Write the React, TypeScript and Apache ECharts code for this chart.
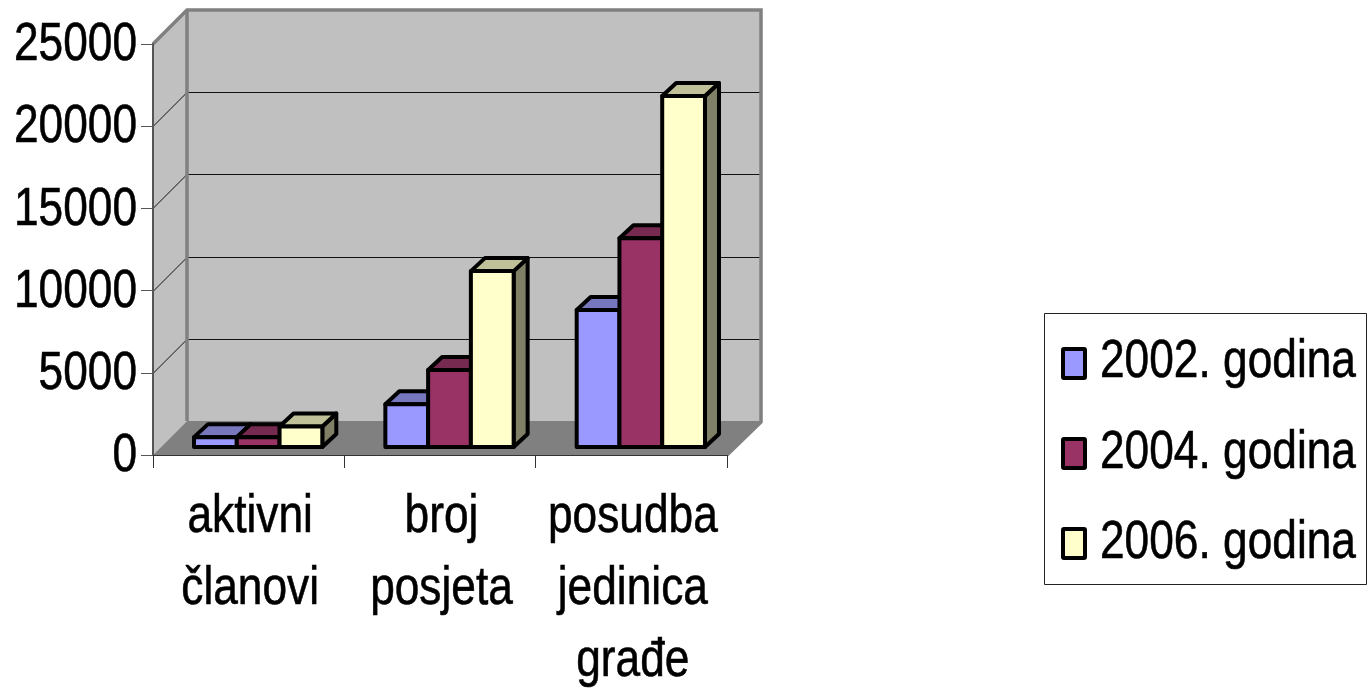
import React, { useEffect, useRef } from "react";
import * as echarts from "echarts";

const categories = ["aktivni\nčlanovi", "broj\nposjeta", "posudba\njedinica\ngrađe"];
const yTicks = [0, 5000, 10000, 15000, 20000, 25000];
const names = ["2002. godina", "2004. godina", "2006. godina"];
const values2002 = [600, 2600, 8330];
const values2004 = [600, 4680, 12700];
const values2006 = [1250, 10700, 21350];
const front = ["#9999FF", "#993366", "#FFFFCC"];
const top = ["#7777BD", "#772A50", "#C0C099"];
const side = ["#666699", "#662244", "#808066"];
const FONT = '"Liberation Sans", Arial, sans-serif';
const FONT_SIZE = 54;
const NARROW = 0.82;
const WALL_DEPTH = 34;

function frameItem(params: any, api: any) {
  const cs = params.coordSys;
  const L = cs.x, R = cs.x + cs.width, B = cs.y + cs.height, T = cs.y;
  const d = WALL_DEPTH;
  const children: any[] = [
    { type: "polygon", shape: { points: [[L + d, T - d], [R + d, T - d], [R + d, B - d], [L + d, B - d]] }, style: { fill: "#C0C0C0" } },
    { type: "polygon", shape: { points: [[L, T], [L + d, T - d], [L + d, B - d], [L, B]] }, style: { fill: "#C0C0C0" } },
    { type: "polygon", shape: { points: [[L, B], [L + d, B - d], [R + d, B - d], [R, B]] }, style: { fill: "#808080" } },
  ];
  yTicks.slice(1, -1).forEach((t) => {
    const y = Math.round(api.coord([0, t])[1]) + 0.5;
    children.push({ type: "polyline", shape: { points: [[L, y], [L + d, y - d], [R + d, y - d]] }, style: { fill: "none", stroke: "#111", lineWidth: 1 } });
  });
  children.push({ type: "polyline", shape: { points: [[L, T], [L + d, T - d], [R + d, T - d], [R + d, B - d + 1], [R, B]] }, style: { fill: "none", stroke: "#808080", lineWidth: 3.5 } });
  children.push({ type: "line", shape: { x1: L + d, y1: T - d, x2: L + d, y2: B - d }, style: { stroke: "#808080", lineWidth: 3.5 } });
  return { type: "group", children };
}

function barRenderer(seriesIndex: number) {
  return (_p: any, api: any) => {
    const cat = api.value(0);
    const val = api.value(1);
    const band = api.size([1, 0])[0];
    const w = band * 0.2235;
    const dx = 14;
    const dy = 13;
    const c = api.coord([cat, 0]);
    const yB = c[1] - 8;
    const yT = api.coord([cat, val])[1] - 8;
    const x0 = c[0] + 9.5 + (seriesIndex - 1.5) * w;
    const x1 = x0 + w;
    const st = { stroke: "#000", lineWidth: 4, lineJoin: "round" };
    return {
      type: "group",
      children: [
        { type: "polygon", shape: { points: [[x1, yT], [x1 + dx, yT - dy], [x1 + dx, yB - dy], [x1, yB]] }, style: { fill: side[seriesIndex], ...st } },
        { type: "polygon", shape: { points: [[x0, yT], [x0 + dx, yT - dy], [x1 + dx, yT - dy], [x1, yT]] }, style: { fill: top[seriesIndex], ...st } },
        { type: "polygon", shape: { points: [[x0, yT], [x1, yT], [x1, yB], [x0, yB]] }, style: { fill: front[seriesIndex], ...st } },
      ],
    };
  };
}

function narrowText(text: string, x: number, y: number, align: string, vAlign: string) {
  return {
    type: "text",
    x,
    y,
    scaleX: NARROW,
    silent: true,
    style: {
      text,
      x: 0,
      y: 0,
      align,
      verticalAlign: vAlign,
      fontFamily: FONT,
      fontSize: FONT_SIZE,
      lineHeight: 72,
      fill: "#000",
      stroke: "#000",
      lineWidth: 0.6,
    },
  };
}

function yLabelItem(params: any, api: any) {
  const t = api.value(1);
  return narrowText(String(t), params.coordSys.x - 16, api.coord([0, t])[1] - 3, "right", "middle");
}

function xLabelItem(params: any, api: any) {
  const k = api.value(0);
  return narrowText(categories[k], api.coord([k, 0])[0] + 1.5, params.coordSys.y + params.coordSys.height + 22, "center", "top");
}

export default function App() {
  const ref = useRef<HTMLDivElement>(null);
  useEffect(() => {
    const chart = echarts.init(ref.current!, undefined, { renderer: "svg" });
    const all = [values2002, values2004, values2006];
    const legendBox = { x: 1044, y: 313, w: 322, h: 271 };
    const legendChildren: any[] = [
      { type: "rect", shape: { x: legendBox.x + 0.5, y: legendBox.y + 0.5, width: legendBox.w, height: legendBox.h }, style: { fill: "#fff", stroke: "#222", lineWidth: 1 } },
    ];
    names.forEach((n, i) => {
      legendChildren.push({ type: "rect", shape: { x: legendBox.x + 19, y: legendBox.y + 36 + i * 90, width: 22, height: 29, r: 1 }, style: { fill: front[i], stroke: "#000", lineWidth: 4 } });
      legendChildren.push(narrowText(n, legendBox.x + 56, legendBox.y + 45 + i * 90.5, "left", "middle"));
    });
    chart.setOption({
      animation: false,
      backgroundColor: "#fff",
      grid: { left: 153, top: 44, width: 574, height: 411, containLabel: false, outerBoundsMode: "none" },
      xAxis: {
        type: "category",
        data: categories,
        axisLine: { show: true, lineStyle: { color: "#333", width: 1 } },
        axisTick: { show: true, length: 13, lineStyle: { color: "#333", width: 1 } },
        axisLabel: { show: false },
        splitLine: { show: false },
      },
      yAxis: {
        type: "value",
        min: 0,
        max: 25000,
        interval: 5000,
        axisLine: { show: true, lineStyle: { color: "#555", width: 2 } },
        axisTick: { show: true, length: 12, lineStyle: { color: "#555", width: 1 } },
        axisLabel: { show: false },
        splitLine: { show: false },
      },
      graphic: [{ type: "group", children: legendChildren }],
      series: [
        { type: "custom", name: "frame", z: -1, silent: true, renderItem: frameItem, data: [[0, 0]] },
        ...all.map((vals, i) => ({
          type: "custom",
          name: names[i],
          z: 3,
          silent: true,
          renderItem: barRenderer(i),
          encode: { x: 0, y: 1 },
          data: vals.map((v, k) => [k, v]),
        })),
        { type: "custom", name: "yLabels", z: 4, silent: true, renderItem: yLabelItem, encode: { x: 0, y: 1 }, data: yTicks.map((t) => [0, t]) },
        { type: "custom", name: "xLabels", z: 4, silent: true, renderItem: xLabelItem, encode: { x: 0, y: 1 }, data: categories.map((_c, k) => [k, 0]) },
      ],
    });
    return () => chart.dispose();
  }, []);
  return <div ref={ref} style={{ position: "fixed", left: 0, top: 0, width: 1371, height: 690 }} />;
}
